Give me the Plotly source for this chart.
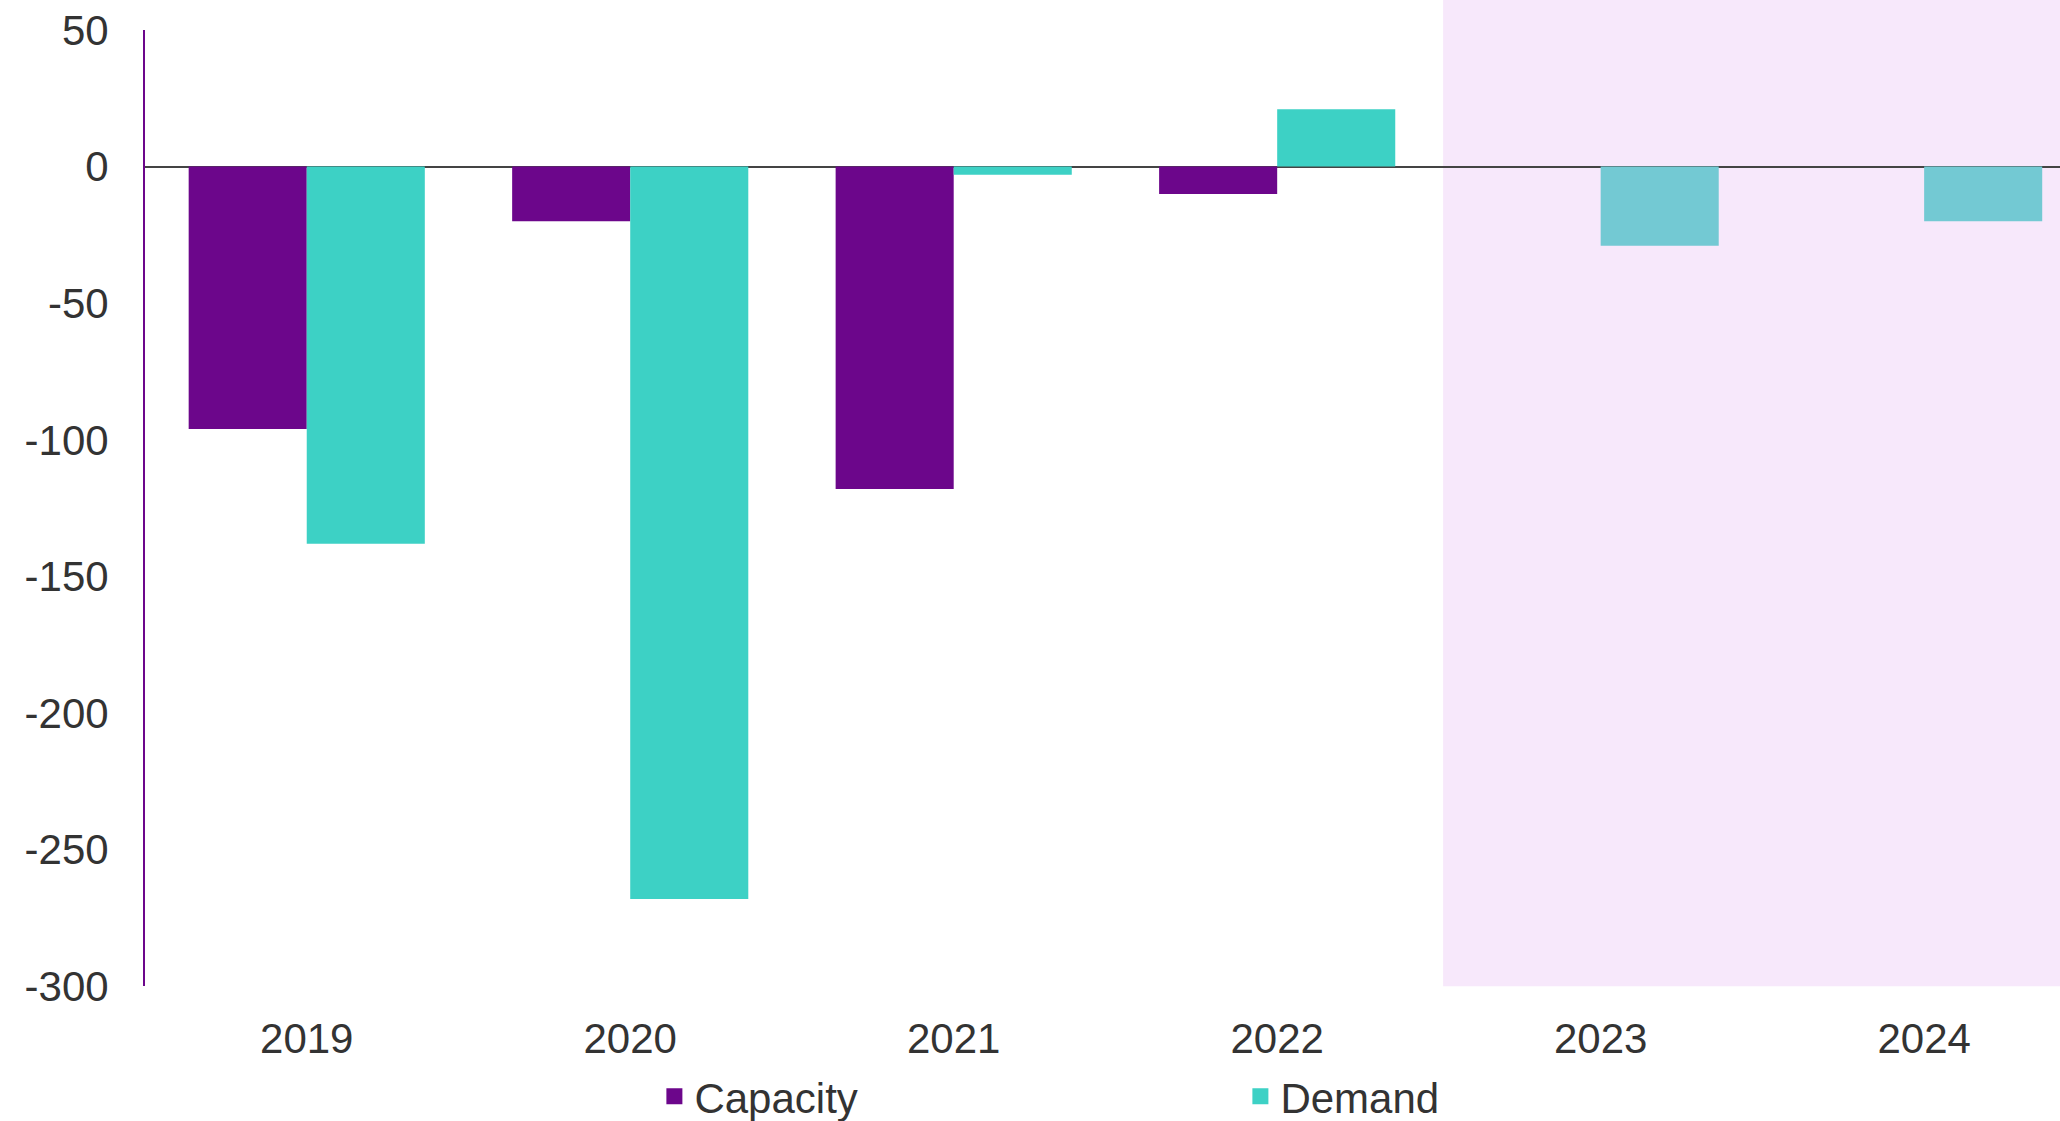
import plotly.graph_objects as go

years = ["2019", "2020", "2021", "2022", "2023", "2024"]
capacity = [-96, -20, -118, -10, None, None]
demand = [-138, -268, -3, 21, -29, -20]
y_ticks = [50, 0, -50, -100, -150, -200, -250, -300]

CAP_COLOR = "#6C068B"
DEM_COLOR = "#3DD1C5"
FCST_COLOR = "#73C9D3"
demand_colors = [DEM_COLOR] * 4 + [FCST_COLOR] * 2

fig = go.Figure()
fig.add_trace(go.Bar(x=years, y=capacity, name="Capacity", marker_color=CAP_COLOR,
                     marker_line_width=0, showlegend=False))
fig.add_trace(go.Bar(x=years, y=demand, name="Demand", marker_color=demand_colors,
                     marker_line_width=0, showlegend=False))
# legend entries with larger square swatches
fig.add_trace(go.Scatter(x=[None], y=[None], mode="markers", name="Capacity",
                         marker=dict(symbol="square", size=16, color=CAP_COLOR)))
fig.add_trace(go.Scatter(x=[None], y=[None], mode="markers", name="Demand",
                         marker=dict(symbol="square", size=16, color=DEM_COLOR)))

fig.add_shape(type="rect", xref="x", yref="paper", x0=3.513, x1=6, y0=0, y1=1.032,
              fillcolor="#F7E8FB", line_width=0, layer="below")

FS = 42
fig.update_layout(
    width=2060, height=1121,
    margin=dict(l=145, r=0, t=30, b=131),
    plot_bgcolor="white", paper_bgcolor="white",
    barmode="group", bargap=0.27, bargroupgap=0,
    font=dict(family="Liberation Sans, Arial, sans-serif", size=FS, color="#333333"),
    showlegend=True,
    legend=dict(orientation="h", x=0.266, xanchor="left",
                yref="container", y=0.022, yanchor="middle",
                bgcolor="rgba(0,0,0,0)",
                font=dict(size=42, color="#333333"), entrywidth=541,
                itemsizing="trace", traceorder="normal"),
)
fig.update_xaxes(type="category", range=[-0.5, 5.42], showgrid=False, showline=False,
                 ticks="", tickfont=dict(size=FS, color="#333333"), ticklabelstandoff=24)
fig.update_yaxes(range=[-300, 50], tickvals=y_ticks, ticktext=[str(v) for v in y_ticks],
                 showgrid=False, showline=True, linecolor=CAP_COLOR, linewidth=2,
                 zeroline=True, zerolinecolor="#444444", zerolinewidth=2,
                 ticks="", tickfont=dict(size=FS, color="#333333"), ticklabelstandoff=26)

fig.write_html("out.html")
